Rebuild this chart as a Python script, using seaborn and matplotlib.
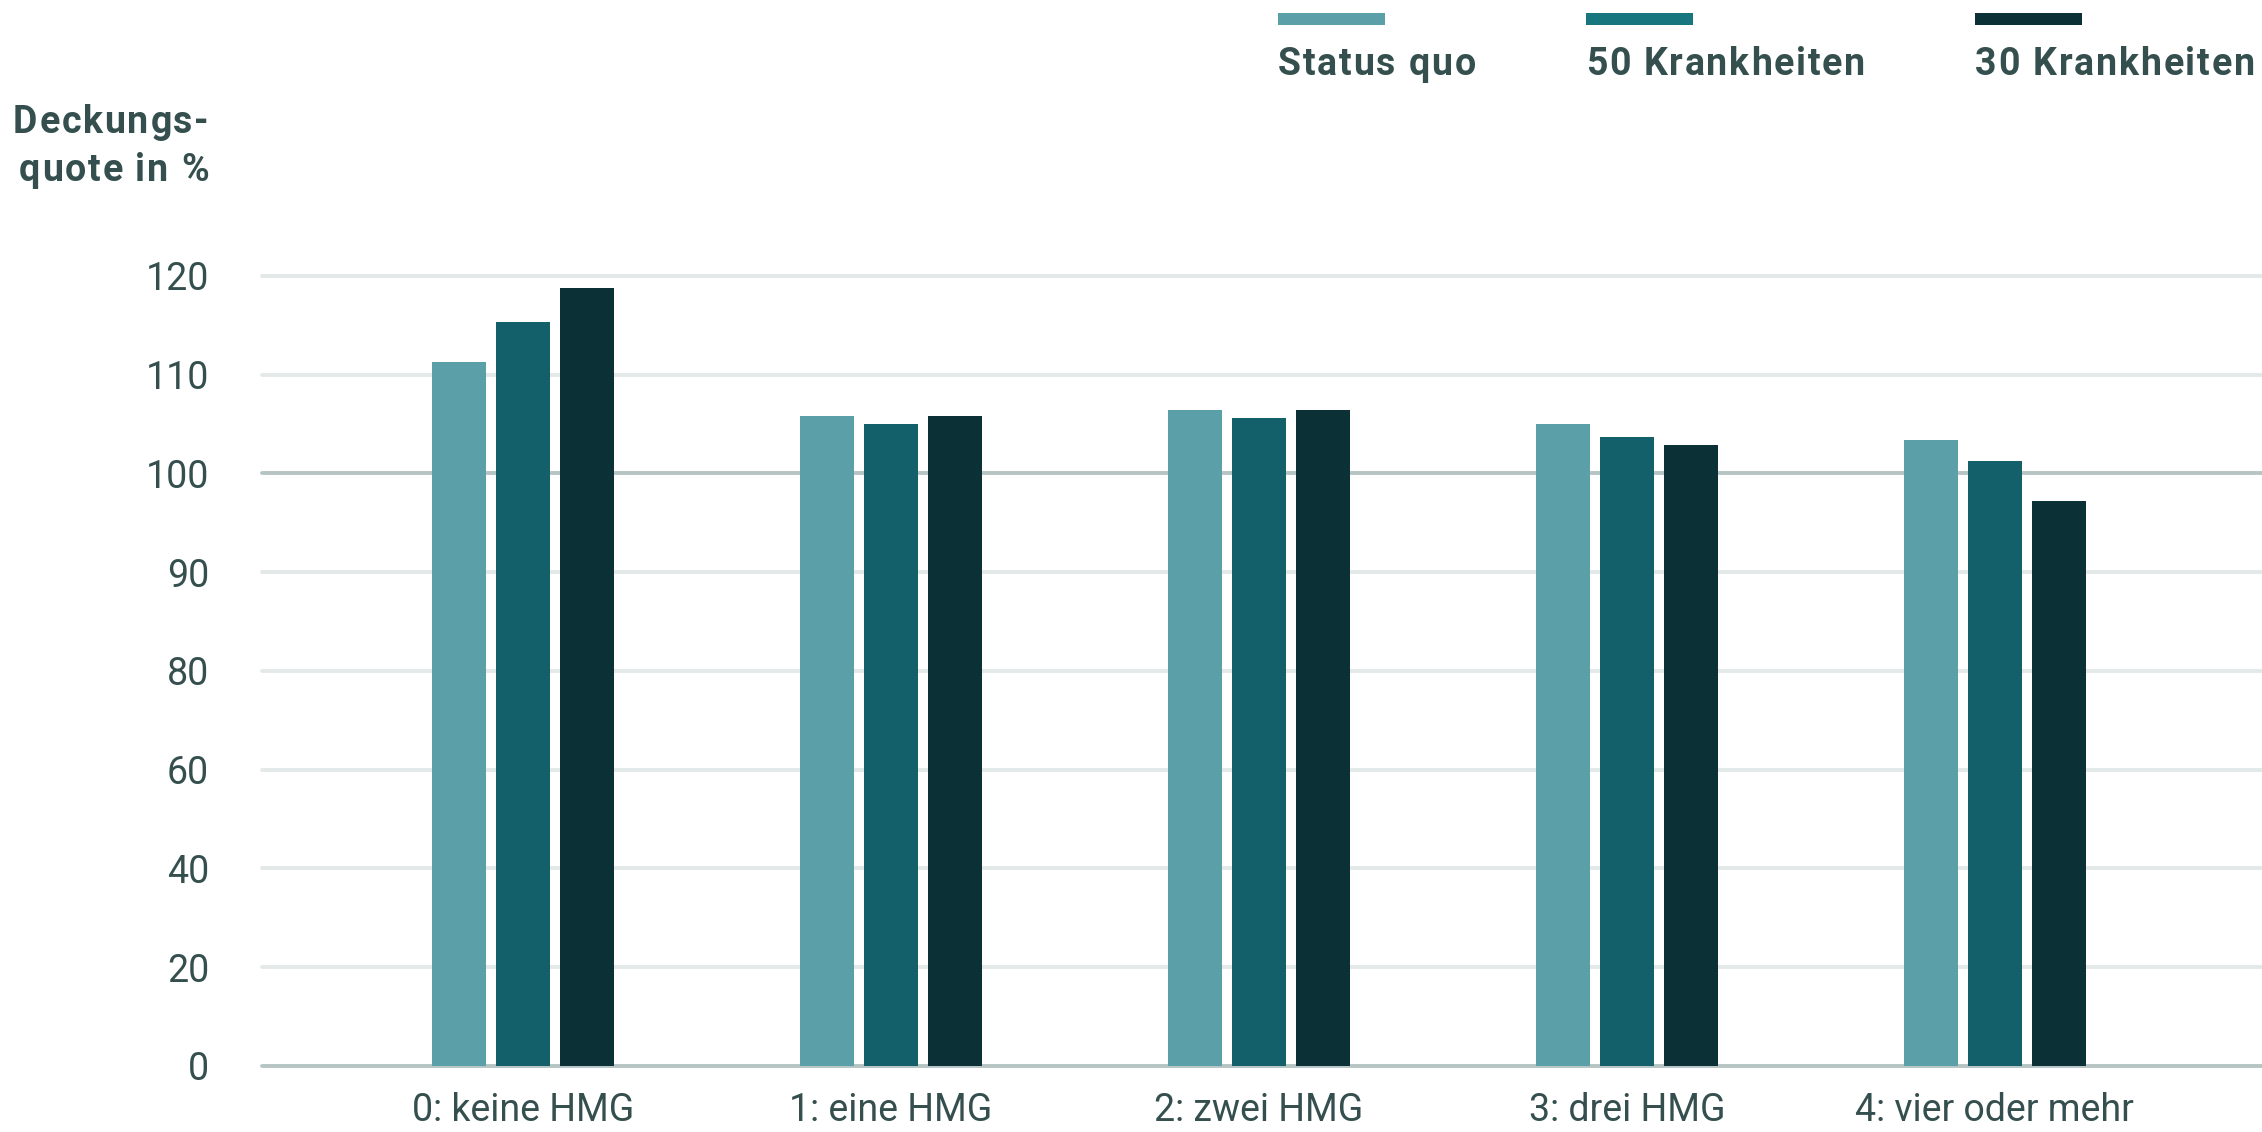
import numpy as np
import pandas as pd
import matplotlib
matplotlib.use("Agg")
import matplotlib.pyplot as plt
from matplotlib.patches import Rectangle
import seaborn as sns

# Data
categories = ["0: keine HMG", "1: eine HMG", "2: zwei HMG", "3: drei HMG", "4: vier oder mehr"]
series_names = ["Status quo", "50 Krankheiten", "30 Krankheiten"]
status_quo = [111.3, 105.8, 106.4, 105.0, 103.4]
krank_50 = [115.3, 105.0, 105.6, 103.7, 101.3]
krank_30 = [118.8, 105.8, 106.4, 102.9, 97.2]
y_ticks = [0, 20, 40, 60, 80, 90, 100, 110, 120]
y_title = ["Deckungs-", "quote in %"]

bar_colors = ["#5ba0a9", "#13606a", "#0b3137"]
legend_colors = ["#5ba0a9", "#18767f", "#0b3137"]
text_color = "#354f4f"
grid_light = "#e3e9e9"
grid_dark = "#b7c4c4"

W, H = 2262, 1132
FS = 27
TRACK = 1.8  # extra letter spacing in px for the bold labels


def fwd(v):
    # broken axis: 0-80 in steps of 20, above 80 in steps of 10
    v = np.asarray(v, dtype=float)
    return np.where(v <= 80, v / 20.0, 4 + (v - 80) / 10.0)


def inv(p):
    p = np.asarray(p, dtype=float)
    return np.where(p <= 4, p * 20.0, 80 + (p - 4) * 10.0)


def text_width(fig, renderer, s, **kw):
    t = fig.text(0, 0, s, **kw)
    w = t.get_window_extent(renderer).width
    t.remove()
    return w


def tracked_text(fig, renderer, x_px, y_px, s, ha="left", **kw):
    """Draw s char by char with extra spacing; y_px is the baseline (from top)."""
    offsets = []
    for i, ch in enumerate(s):
        pos = text_width(fig, renderer, s[:i + 1], **kw) - text_width(fig, renderer, ch, **kw)
        offsets.append(pos + i * TRACK)
    total = text_width(fig, renderer, s, **kw) + (len(s) - 1) * TRACK
    start = x_px - total if ha == "right" else x_px
    for ch, off in zip(s, offsets):
        if ch == " ":
            continue
        fig.text((start + off) / W, 1 - y_px / H, ch, ha="left", va="baseline", **kw)
    return start + total


df = pd.DataFrame({
    "Gruppe": categories * 3,
    "Szenario": [s for s in series_names for _ in categories],
    "Wert": status_quo + krank_50 + krank_30,
})

sns.set_theme(style="white")
plt.rcParams["font.family"] = ["Roboto", "DejaVu Sans"]

fig = plt.figure(figsize=(W / 100, H / 100), dpi=100)
ax = fig.add_axes([262 / W, 1 - 1066 / H, 1 - 262 / W, (1066 - 266) / H])

sns.barplot(data=df, x="Gruppe", y="Wert", hue="Szenario", order=categories,
            hue_order=series_names, palette=bar_colors, saturation=1,
            width=0.522, gap=0.157, linewidth=0, errorbar=None,
            legend=False, ax=ax, zorder=3)

ax.set_yscale("function", functions=(fwd, inv))
ax.set_ylim(0, 121)
ax.set_xlim(-0.709, 4.726)
ax.set_yticks(y_ticks)
ax.set_yticklabels([str(t) for t in y_ticks])

# gridlines, baseline and 100 line darker
for t in y_ticks:
    col = grid_dark if t in (0, 100) else grid_light
    ax.axhline(t, color=col, lw=2.8, zorder=0, clip_on=False)

for s in ax.spines.values():
    s.set_visible(False)
ax.set_xlabel("")
ax.set_ylabel("")
ax.tick_params(axis="y", length=0, labelsize=FS, labelcolor=text_color, pad=38)
ax.tick_params(axis="x", length=0, labelsize=FS, labelcolor=text_color, pad=18.5)

fig.canvas.draw()
renderer = fig.canvas.get_renderer()
bold = dict(fontsize=FS, fontweight="bold", color=text_color)

# axis title, two right-aligned lines
for line, base in zip(y_title, [133, 181]):
    tracked_text(fig, renderer, 209, base, line, ha="right", **bold)

# legend: colour bar above label
x0 = 1278
for name, col in zip(series_names, legend_colors):
    fig.add_artist(Rectangle((x0 / W, 1 - 25 / H), 107 / W, 12 / H,
                             transform=fig.transFigure, color=col, lw=0))
    end = tracked_text(fig, renderer, x0, 75, name, **bold)
    x0 = end + 110

fig.savefig("out.png", dpi=100)
